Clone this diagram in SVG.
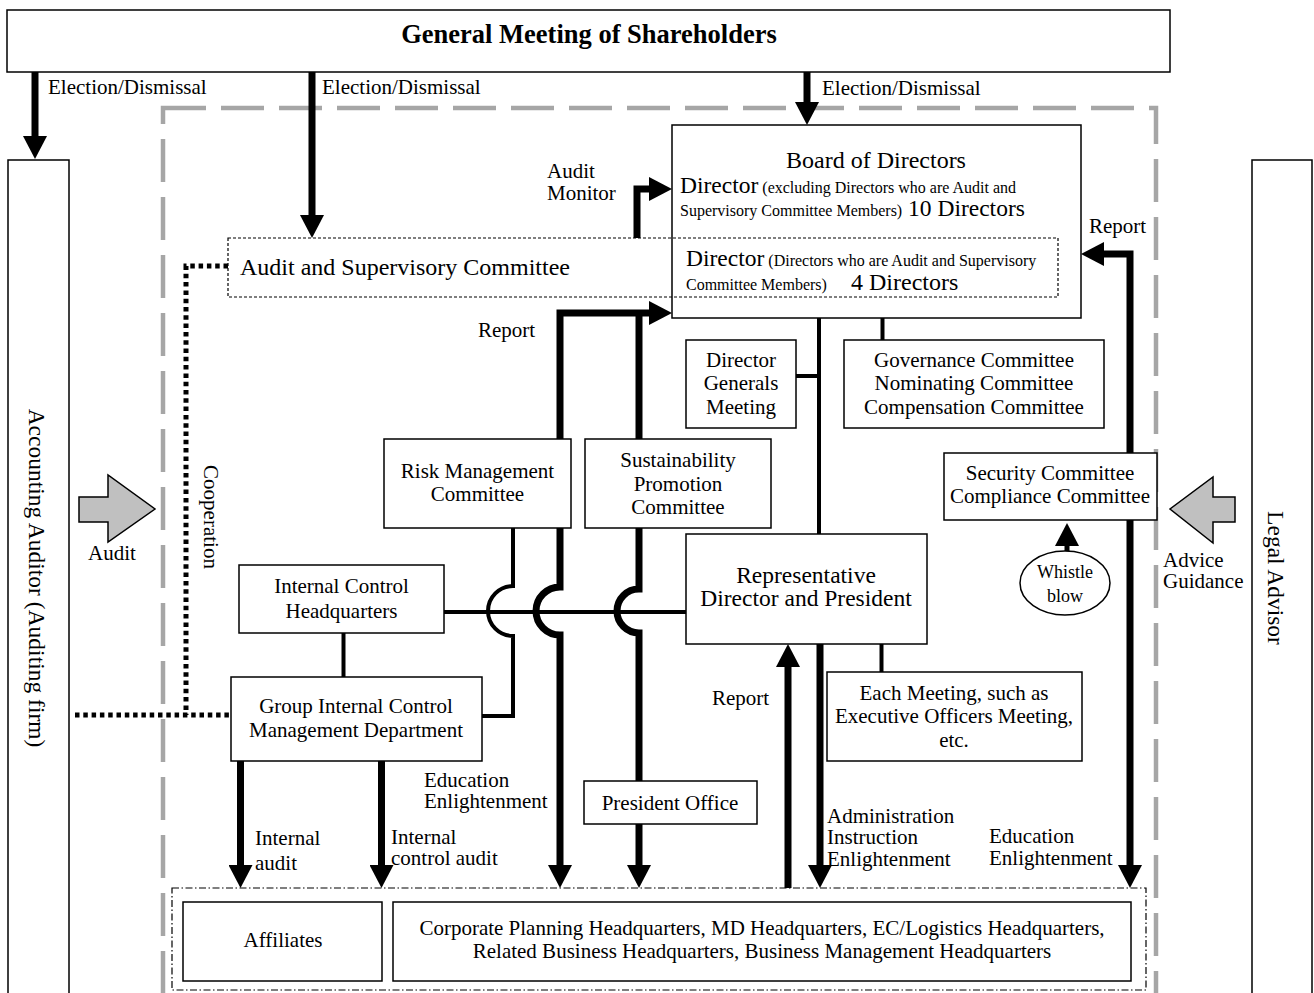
<svg xmlns="http://www.w3.org/2000/svg" width="1314" height="993" viewBox="0 0 1314 993">
<style>
.t{font-family:"Liberation Serif","Times New Roman",serif;font-size:21px;fill:#000}
.c{text-anchor:middle}
.box{fill:#fff;stroke:#000;stroke-width:1.5}
.nf{fill:none;stroke:#000;stroke-width:1.5}
.thick{fill:none;stroke:#000;stroke-width:7}
.thin{fill:none;stroke:#000;stroke-width:4}
.big{font-size:23.5px}
.b24{font-size:24px}
.sm{font-size:16px}
.wb{font-size:18px}
.title{font-size:26.5px;font-weight:bold}
.blk{fill:#c0c0c0;stroke:#000;stroke-width:1.5}
</style>
<defs>
<marker id="ah" markerUnits="userSpaceOnUse" markerWidth="23" markerHeight="24" viewBox="0 0 23 24" refX="5" refY="12" orient="auto-start-reverse">
<path d="M0,0 L23,12 L0,24 Z" fill="#000"/>
</marker>
</defs>
<rect x="163" y="108" width="993" height="900" fill="none" stroke="#a6a6a6" stroke-width="4.5" stroke-dasharray="43 15"/>
<g id="connectors">
<path class="thick" d="M35,72 V141" marker-end="url(#ah)"/>
<path class="thick" d="M312,72 V220" marker-end="url(#ah)"/>
<path class="thick" d="M807,72 V107" marker-end="url(#ah)"/>
<path class="thick" d="M637,238 V189 H654" marker-end="url(#ah)"/>
<path class="thick" d="M560,870 V635 A24,24 0 0 1 560,587 V313 H654" marker-start="url(#ah)" marker-end="url(#ah)"/>
<path class="thick" d="M639,439 V313"/>
<path class="thick" d="M639,528 V589 A22,22 0 0 0 639,633 V781"/>
<path class="thick" d="M639,824 V870" marker-end="url(#ah)"/>
<path class="thick" d="M1130,870 V254 H1099" marker-start="url(#ah)" marker-end="url(#ah)"/>
<path class="thick" d="M240.5,761 V870" marker-end="url(#ah)"/>
<path class="thick" d="M381.5,761 V870" marker-end="url(#ah)"/>
<path class="thick" d="M788,888 V662" marker-end="url(#ah)"/>
<path class="thick" d="M820,644 V870" marker-end="url(#ah)"/>
<path fill="none" stroke="#000" stroke-width="5" d="M1067,551 V541" marker-end="url(#ah)"/>
<path class="thin" d="M819,318 V534"/>
<path class="thin" d="M796,376 H819"/>
<path class="thin" d="M882.5,318 V340"/>
<path class="thin" stroke-width="4.5" d="M444,612 H686"/>
<path class="thin" d="M513,528 V586 A25,25 0 0 0 513,636 V716 H482"/>
<path class="thin" d="M343.5,633 V677"/>
<path class="thin" d="M881.5,644 V672"/>
<path fill="none" stroke="#000" stroke-width="5" stroke-dasharray="4.5 3.8" d="M228,266 H186 V715 M75,715 H231"/>
<polygon class="blk" points="79,497 108,497 108,475 155,509 108,542 108,522 79,522"/>
<polygon class="blk" points="1235,497 1213,497 1213,477 1170,509 1213,543 1213,522 1235,522"/>
</g>
<g id="labels">
<text class="t" x="48" y="94">Election/Dismissal</text>
<text class="t" x="322" y="94">Election/Dismissal</text>
<text class="t" x="822" y="95">Election/Dismissal</text>
<text class="t" x="547" y="178">Audit<tspan x="547" dy="22">Monitor</tspan></text>
<text class="t" x="1089" y="233">Report</text>
<text class="t" x="478" y="337">Report</text>
<text class="t" x="712" y="705">Report</text>
<text class="t" x="88" y="560">Audit</text>
<text class="t" x="1163" y="567">Advice<tspan x="1163" dy="21">Guidance</tspan></text>
<text class="t c" transform="translate(204,517) rotate(90)">Cooperation</text>
<text class="t" x="255" y="845">Internal<tspan x="255" dy="25">audit</tspan></text>
<text class="t" x="391" y="844">Internal<tspan x="391" dy="21">control audit</tspan></text>
<text class="t" x="424" y="787">Education<tspan x="424" dy="21">Enlightenment</tspan></text>
<text class="t" x="827" y="823">Administration<tspan x="827" dy="21">Instruction</tspan><tspan x="827" dy="22">Enlightenment</tspan></text>
<text class="t" x="989" y="843">Education<tspan x="989" dy="22">Enlightenment</tspan></text>
</g>
<g id="gm">
<rect class="box" x="7" y="10" width="1163" height="62"/>
<text class="t c title" x="589" y="43">General Meeting of Shareholders</text>
</g>
<g id="accounting-auditor">
<rect class="nf" x="8" y="160" width="61" height="850"/>
<text class="t c big" transform="translate(29,578) rotate(90)">Accounting Auditor (Auditing firm)</text>
</g>
<g id="legal-advisor">
<rect class="nf" x="1252" y="160" width="60" height="850"/>
<text class="t c big" transform="translate(1268,578) rotate(90)">Legal Advisor</text>
</g>
<g id="board">
<rect class="box" x="672" y="125" width="409" height="193"/>
<text class="t c b24" x="876" y="168">Board of Directors</text>
<text class="t" x="680" y="193"><tspan class="big">Director</tspan><tspan class="sm"> (excluding Directors who are Audit and</tspan><tspan x="680" dy="23" class="sm">Supervisory Committee Members)</tspan><tspan class="big"> 10 Directors</tspan></text>
</g>
<g id="audit-committee">
<rect fill="none" stroke="#000" stroke-width="1.2" stroke-dasharray="3 2" x="228" y="238" width="830" height="59"/>
<text class="t b24" x="240" y="275">Audit and Supervisory Committee</text>
<text class="t" x="686" y="266"><tspan class="big">Director</tspan><tspan class="sm"> (Directors who are Audit and Supervisory</tspan><tspan x="686" dy="24" class="sm">Committee Members)</tspan><tspan x="851" class="b24">4 Directors</tspan></text>
</g>
<g id="director-generals">
<rect class="box" x="686" y="340" width="110" height="88"/>
<text class="t c" x="741" y="367">Director<tspan x="741" dy="23">Generals</tspan><tspan x="741" dy="24">Meeting</tspan></text>
</g>
<g id="governance">
<rect class="box" x="844" y="340" width="260" height="88"/>
<text class="t c" x="974" y="367">Governance Committee<tspan x="974" dy="23">Nominating Committee</tspan><tspan x="974" dy="24">Compensation Committee</tspan></text>
</g>
<g id="risk">
<rect class="box" x="384" y="439" width="187" height="89"/>
<text class="t c" x="477.5" y="478">Risk Management<tspan x="477.5" dy="23">Committee</tspan></text>
</g>
<g id="sustainability">
<rect class="box" x="585" y="439" width="186" height="89"/>
<text class="t c" x="678" y="467">Sustainability<tspan x="678" dy="24">Promotion</tspan><tspan x="678" dy="23">Committee</tspan></text>
</g>
<g id="security">
<rect class="box" x="944" y="453" width="213" height="67"/>
<text class="t c" x="1050" y="480">Security Committee<tspan x="1050" dy="23">Compliance Committee</tspan></text>
</g>
<g id="whistle">
<ellipse class="box" cx="1065" cy="583" rx="45" ry="32"/>
<text class="t c wb" x="1065" y="578">Whistle<tspan x="1065" dy="24">blow</tspan></text>
</g>
<g id="ichq">
<rect class="box" x="239" y="565" width="205" height="68"/>
<text class="t c" x="341.5" y="593">Internal Control<tspan x="341.5" dy="25">Headquarters</tspan></text>
</g>
<g id="president">
<rect class="box" x="686" y="534" width="241" height="110"/>
<text class="t c big" x="806" y="583">Representative<tspan x="806" dy="23">Director and President</tspan></text>
</g>
<g id="gicmd">
<rect class="box" x="231" y="677" width="251" height="84"/>
<text class="t c" x="356" y="713">Group Internal Control<tspan x="356" dy="24">Management Department</tspan></text>
</g>
<g id="each-meeting">
<rect class="box" x="827" y="672" width="255" height="89"/>
<text class="t c" x="954" y="700">Each Meeting, such as<tspan x="954" dy="23">Executive Officers Meeting,</tspan><tspan x="954" dy="24">etc.</tspan></text>
</g>
<g id="president-office">
<rect class="box" x="584" y="781" width="173" height="43"/>
<text class="t c" x="670" y="810">President Office</text>
</g>
<g id="departments">
<rect fill="none" stroke="#000" stroke-width="1.2" stroke-dasharray="7 2.5 1.5 2.5" x="172" y="888" width="974" height="102"/>
<g id="affiliates">
<rect class="box" x="183" y="902" width="199" height="79"/>
<text class="t c" x="283" y="947">Affiliates</text>
</g>
<g id="headquarters">
<rect class="box" x="393" y="902" width="738" height="79"/>
<text class="t c" x="762" y="935">Corporate Planning Headquarters, MD Headquarters, EC/Logistics Headquarters,<tspan x="762" dy="23">Related Business Headquarters, Business Management Headquarters</tspan></text>
</g>
</g>
</svg>
